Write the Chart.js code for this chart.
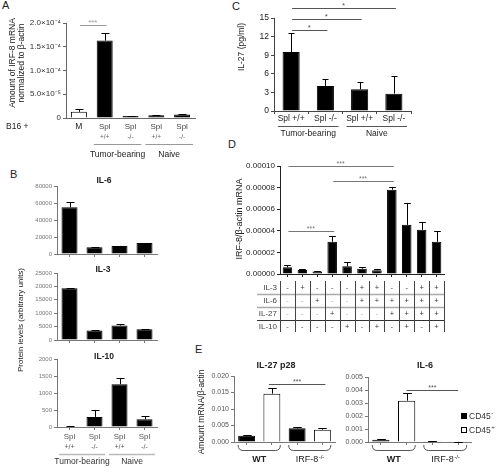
<!DOCTYPE html>
<html>
<head>
<meta charset="utf-8">
<script src="https://cdn.jsdelivr.net/npm/chart.js@4.4.1/dist/chart.umd.min.js"></script>
<style>
  html, body { margin: 0; padding: 0; background: #fff; }
  body { position: relative; width: 499px; height: 467px; overflow: hidden; font-family: "Liberation Sans", Arial, sans-serif; }
  canvas { position: absolute; }
  .letter { position: absolute; font-size: 11px; line-height: 11px; color: #222; }
</style>
</head>
<body>
<div class="letter" style="left:2px;top:0px">A</div>
<div class="letter" style="left:10px;top:169px">B</div>
<div class="letter" style="left:232px;top:1px">C</div>
<div class="letter" style="left:228px;top:139px">D</div>
<div class="letter" style="left:195px;top:344px">E</div>
<script>
// ---- Panel A: IRF-8 mRNA ----
const catsA = ["M", "Spl +/+", "Spl -/-", "Spl +/+", "Spl -/-"];
const valsA = [1.3e-5, 1.63e-4, 0.4e-5, 0.6e-5, 0.75e-5];
const errA = [1.9e-5, 1.8e-4, 0.5e-5, 0.7e-5, 0.85e-5];
const fillA = ["#fff", "#000", "#000", "#000", "#000"];
const ticksA = ["0", "5.0×10⁻⁵", "1.0×10⁻⁴", "1.5×10⁻⁴", "2.0×10⁻⁴"];
const groupsA = [["Tumor-bearing", 1, 2], ["Naive", 3, 4]];
const sigA = [[0, 1, 1.96e-4, "***"]];

// ---- Panel B: protein levels ----
const catsB = ["Spl +/+", "Spl -/-", "Spl +/+", "Spl -/-"];
const il6B = [54900, 7800, 9500, 13000];
const il6ErrB = [60800, 8100, 9900, 13500];
const il3B = [19300, 3500, 5400, 4000];
const il3ErrB = [19500, 3700, 5800, 4200];
const il10B = [15, 297, 1257, 228];
const il10ErrB = [30, 495, 1455, 317];
const ticksIL6 = ["0", "20000", "40000", "60000", "80000"];
const ticksIL3 = ["0", "5000", "10000", "15000", "20000", "25000"];
const ticksIL10 = ["0", "500", "1000", "1500", "2000"];
const groupsB = [["Tumor-bearing", 0, 1], ["Naive", 2, 3]];

// ---- Panel C: IL-27 ----
const catsC = ["Spl +/+", "Spl -/-", "Spl +/+", "Spl -/-"];
const valsC = [9.5, 4.05, 3.5, 2.8];
const errC = [12.55, 5.15, 4.65, 5.6];
const ticksC = ["0", "3", "6", "9", "12", "15"];
const groupsC = [["Tumor-bearing", 0, 1], ["Naive", 2, 3]];
const sigC = [[0, 1, 13.06, "*"], [0, 2, 14.84, "*"], [0, 3, 16.6, "*"]];

// ---- Panel D: cytokine combinations ----
const cytokinesD = ["IL-3", "IL-6", "IL-27", "IL-10"];
const signsD = [
  ["-", "+", "-", "-", "-", "+", "+", "-", "-", "+", "+"],
  ["-", "-", "+", "-", "-", "+", "+", "+", "+", "+", "+"],
  ["-", "-", "-", "+", "-", "-", "-", "+", "+", "+", "+"],
  ["-", "-", "-", "-", "+", "-", "+", "-", "+", "-", "+"],
];
const valsD = [6.2e-6, 3.7e-6, 2.2e-6, 2.98e-5, 7.1e-6, 4.9e-6, 3.4e-6, 7.8e-5, 4.55e-5, 4.09e-5, 2.98e-5];
const errD = [8.3e-6, 4.6e-6, 2.5e-6, 3.48e-5, 1.08e-5, 6.5e-6, 4.3e-6, 8.1e-5, 6.55e-5, 4.77e-5, 3.97e-5];
const ticksD = ["0.00000", "0.00002", "0.00004", "0.00006", "0.00008", "0.00010"];
const sigD = [[0, 7, 1.0e-4, "***"], [3, 7, 8.6e-5, "***"], [0, 3, 4.0e-5, "***"]];

// ---- Panel E: WT vs IRF-8-/- ----
const catsE = ["WT CD45-", "WT CD45+", "IRF-8-/- CD45-", "IRF-8-/- CD45+"];
const fillE = ["#000", "#fff", "#000", "#fff"];
const p28E = [0.0019, 0.01465, 0.00414, 0.00374];
const p28ErrE = [0.0021, 0.01646, 0.00444, 0.00424];
const il6E = [0.00018, 0.00318, 0.00005, 0.00001];
const il6ErrE = [0.0002, 0.00375, 0.00006, 0.00002];
const ticksP28 = ["0.000", "0.005", "0.010", "0.015", "0.020"];
const ticksIL6E = ["0.000", "0.001", "0.002", "0.003", "0.004", "0.005"];
const groupsE = [["WT", "", 0, 1], ["IRF-8", "-/-", 2, 3]];
const legendE = [["CD45", "-", "#000"], ["CD45", "+", "#fff"]];

const FONT = '"Liberation Sans", Arial, Helvetica, sans-serif';
Chart.defaults.font.family = FONT;

function txt(ctx, s, x, y, o = {}) {
  ctx.save();
  ctx.font = `${o.bold ? "bold " : ""}${o.size || 8}px ${FONT}`;
  ctx.fillStyle = o.color || "#222";
  ctx.textAlign = o.align || "center";
  ctx.textBaseline = "middle";
  ctx.translate(x, y);
  if (o.rot) ctx.rotate(-Math.PI / 2);
  ctx.fillText(s, 0, 0);
  ctx.restore();
}

function supTxt(ctx, base, sup, x, y, o = {}) {
  const size = o.size || 8;
  const w = o.bold ? "bold " : "";
  const f1 = `${w}${size}px ${FONT}`;
  const f2 = `${w}${Math.round(size * 0.65)}px ${FONT}`;
  ctx.save();
  ctx.font = f1;
  const w1 = ctx.measureText(base).width;
  ctx.font = f2;
  const w2 = ctx.measureText(sup).width;
  const x0 = o.align === "left" ? x : x - (w1 + w2) / 2;
  ctx.fillStyle = o.color || "#222";
  ctx.textBaseline = "middle";
  ctx.textAlign = "left";
  ctx.font = f1;
  ctx.fillText(base, x0, y);
  ctx.font = f2;
  ctx.fillText(sup, x0 + w1 + 0.5, y - size * 0.35);
  ctx.restore();
}

function seg(ctx, x0, y0, x1, y1, color, width) {
  ctx.save();
  ctx.strokeStyle = color || "#222";
  ctx.lineWidth = width || 1;
  ctx.beginPath();
  ctx.moveTo(x0, y0);
  ctx.lineTo(x1, y1);
  ctx.stroke();
  ctx.restore();
}

function drawSig(ctx, X, Y, sig, color, size) {
  sig.forEach(([a, b, v, stars]) => {
    const y = Math.round(Y(v)) + 0.5;
    seg(ctx, X(a) + 1, y, X(b) + 2, y, color, 1);
    txt(ctx, stars, (X(a) + X(b)) / 2 + 1, y - 2.5, { size, color });
  });
}

function drawGroups(ctx, X, slot, groups, lineY, textY, o) {
  groups.forEach(([name, a, b]) => {
    const x0 = X(a) - slot / 2 + o.inset;
    const x1 = X(b) + slot / 2 - o.inset;
    seg(ctx, x0, lineY, x1, lineY, o.lineColor, o.lineWidth || 1);
    txt(ctx, name, (x0 + x1) / 2, textY, { size: o.size, color: o.color });
  });
}

function barPanel(o) {
  const [bx0, by0, bx1, by1] = o.box;
  const [px0, py0, px1, py1] = o.plot;
  const cv = document.createElement("canvas");
  cv.width = bx1 - bx0;
  cv.height = by1 - by0;
  cv.style.left = bx0 + "px";
  cv.style.top = by0 + "px";
  document.body.appendChild(cv);
  const axis = o.axis || "#333";
  const step = o.max / (o.ticks.length - 1);
  return new Chart(cv, {
    type: "bar",
    data: {
      labels: o.labels,
      datasets: [{
        data: o.values,
        backgroundColor: o.fill || "#000",
        borderColor: "#000",
        borderWidth: 1,
        borderSkipped: "bottom",
        barPercentage: o.barPct,
        categoryPercentage: 1,
      }],
    },
    options: {
      responsive: false,
      animation: false,
      devicePixelRatio: 1,
      events: [],
      layout: { padding: { left: 0, top: py0 - by0, right: bx1 - px1, bottom: 0 } },
      plugins: { legend: { display: false }, tooltip: { enabled: false } },
      scales: {
        x: {
          offset: true,
          grid: {
            drawOnChartArea: false,
            offset: !!o.tickBetween,
            drawTicks: o.xTicks !== false,
            tickLength: 3,
            color: axis,
          },
          border: { color: axis },
          ticks: { display: false },
          afterFit: (s) => { s.height = by1 - py1; },
        },
        y: {
          min: 0,
          max: o.max,
          ticks: {
            stepSize: step,
            color: o.tickColor || "#222",
            font: { size: o.tickSize || 8 },
            padding: 2,
            callback: (v) => o.ticks[Math.round(v / step)],
          },
          grid: { drawOnChartArea: false, tickLength: 3, color: axis },
          border: { color: axis },
          afterFit: (s) => { s.width = px0 - bx0; },
        },
      },
    },
    plugins: [{
      id: "extras",
      afterDraw(chart) {
        const ctx = chart.ctx;
        const xs = chart.scales.x;
        const ys = chart.scales.y;
        const X = (i) => xs.getPixelForValue(i) + bx0;
        const Y = (v) => ys.getPixelForValue(v) + by0;
        const slot = xs.getPixelForValue(1) - xs.getPixelForValue(0);
        const meta = chart.getDatasetMeta(0);
        ctx.save();
        ctx.translate(-bx0, -by0);
        meta.data.forEach((bar, i) => {
          const e = o.errors[i];
          const x = Math.round(bar.x + bx0) + 0.5;
          const yTop = Math.round(Y(e)) + 0.5;
          const cap = bar.width * (o.cap || 0.5) / 2;
          seg(ctx, x, bar.y + by0, x, yTop, "#000", 1);
          seg(ctx, x - cap, yTop, x + cap, yTop, "#000", 1);
        });
        if (o.draw) o.draw(ctx, X, Y, slot, meta);
        ctx.restore();
      },
    }],
  });
}

// Panel A
barPanel({
  box: [0, 0, 232, 165], plot: [66, 23, 195, 118],
  labels: catsA, values: valsA, errors: errA, fill: fillA, ticks: ticksA,
  max: 2e-4, barPct: 0.62, axis: "#666", tickColor: "#333", tickSize: 8, xTicks: false,
  draw(ctx, X, Y, slot) {
    txt(ctx, "Amount of IRF-8 mRNA", 13, 63, { size: 8.5, rot: true });
    txt(ctx, "normalized to β-actin", 22, 63, { size: 8.5, rot: true });
    txt(ctx, "B16 +", 6, 127, { size: 8.5, align: "left" });
    catsA.forEach((c, i) => {
      const [top, bot] = c.split(" ");
      if (bot) {
        txt(ctx, top, X(i), 127, { size: 8, color: "#444" });
        txt(ctx, bot, X(i), 137, { size: 6.5, color: "#666" });
      } else {
        txt(ctx, top, X(i), 127, { size: 8.5 });
      }
    });
    drawGroups(ctx, X, slot, groupsA, 144.5, 155, { inset: 2, lineColor: "#999", size: 8.5, color: "#222" });
    drawSig(ctx, X, Y, sigA, "#999", 8);
  },
});

// Panel C
barPanel({
  box: [232, 0, 499, 145], plot: [274, 18, 411, 111],
  labels: catsC, values: valsC, errors: errC, ticks: ticksC,
  max: 15, barPct: 0.5, axis: "#444", tickColor: "#222", tickSize: 8.5, tickBetween: true, cap: 0.35,
  draw(ctx, X, Y, slot) {
    txt(ctx, "IL-27 (pg/ml)", 242, 47, { size: 8.5, rot: true });
    catsC.forEach((c, i) => txt(ctx, c, X(i), 119, { size: 8.5 }));
    drawGroups(ctx, X, slot, groupsC, 126.5, 134, { inset: 4, lineColor: "#555", size: 8.5, color: "#222" });
    drawSig(ctx, X, Y, sigC, "#555", 8);
  },
});

// Panel B
barPanel({
  box: [0, 168, 175, 262], plot: [57, 186, 157, 254],
  labels: catsB, values: il6B, errors: il6ErrB, ticks: ticksIL6,
  max: 80000, barPct: 0.64, axis: "#777", tickColor: "#777", tickSize: 6,
  draw(ctx) {
    txt(ctx, "IL-6", 104, 181, { size: 8.5, bold: true });
  },
});
barPanel({
  box: [0, 240, 175, 372], plot: [57, 273, 157, 340],
  labels: catsB, values: il3B, errors: il3ErrB, ticks: ticksIL3,
  max: 25000, barPct: 0.64, axis: "#777", tickColor: "#777", tickSize: 6,
  draw(ctx) {
    txt(ctx, "IL-3", 103, 270, { size: 8.5, bold: true });
    txt(ctx, "Protein levels (arbitrary units)", 21, 320, { size: 8, rot: true });
  },
});
barPanel({
  box: [0, 345, 175, 467], plot: [57, 359, 157, 427],
  labels: catsB, values: il10B, errors: il10ErrB, ticks: ticksIL10,
  max: 2000, barPct: 0.64, axis: "#777", tickColor: "#777", tickSize: 6,
  draw(ctx, X, Y, slot) {
    txt(ctx, "IL-10", 104, 357, { size: 8.5, bold: true });
    catsB.forEach((c, i) => {
      const [top, bot] = c.split(" ");
      txt(ctx, top, X(i), 437, { size: 8, color: "#555" });
      txt(ctx, bot, X(i), 447, { size: 7, color: "#555" });
    });
    drawGroups(ctx, X, slot, groupsB, 454.5, 462, { inset: 2, lineColor: "#bbb", lineWidth: 1.5, size: 8.5, color: "#333" });
  },
});

// Panel D
const labelsD = signsD[0].map((_, i) =>
  cytokinesD.filter((_, r) => signsD[r][i] === "+").join("+") || "none");
barPanel({
  box: [232, 140, 499, 340], plot: [280, 166, 444, 274],
  labels: labelsD, values: valsD, errors: errD, ticks: ticksD,
  max: 1e-4, barPct: 0.64, axis: "#222", tickColor: "#222", tickSize: 8, cap: 0.7,
  draw(ctx, X, Y, slot) {
    txt(ctx, "IRF-8/β-actin mRNA", 240, 219, { size: 9, rot: true });
    drawSig(ctx, X, Y, sigD, "#777", 7);
    const rowY = [288, 301, 314, 326.5];
    const minusColor = ["#444", "#aaa", "#aaa", "#444"];
    cytokinesD.forEach((name, r) => {
      txt(ctx, name, 277, rowY[r], { size: 8, color: "#444", align: "right" });
      signsD[r].forEach((s, i) => {
        txt(ctx, s, X(i), rowY[r], { size: 7.5, color: s === "+" ? "#333" : minusColor[r] });
      });
    });
    const x0 = X(0) - slot / 2;
    const x1 = X(signsD[0].length - 1) + slot / 2;
    seg(ctx, 257, 294.5, x1, 294.5, "#aaa", 1.5);
    seg(ctx, 257, 307.5, x1, 307.5, "#aaa", 1.5);
    seg(ctx, 257, 320.5, x1, 320.5, "#333", 1);
    for (let k = 0; k <= signsD[0].length; k++) {
      const x = Math.round(x0 + k * slot) + 0.5;
      seg(ctx, x, 281, x, 332, "#444", 1);
    }
  },
});

// Panel E
function drawBraces(ctx, X, meta) {
  const bw = meta.data[0].width;
  groupsE.forEach(([name, sup, a, b]) => {
    const x0 = X(a) - bw / 2;
    const x1 = X(b) + bw / 2;
    ctx.save();
    ctx.strokeStyle = "#555";
    ctx.lineWidth = 1;
    ctx.beginPath();
    ctx.moveTo(x0, 445);
    ctx.quadraticCurveTo(x0, 450.5, x0 + 5, 450.5);
    ctx.lineTo(x1 - 5, 450.5);
    ctx.quadraticCurveTo(x1, 450.5, x1, 445);
    ctx.stroke();
    ctx.restore();
    if (sup) supTxt(ctx, name, sup, (x0 + x1) / 2, 460, { size: 9 });
    else txt(ctx, name, (x0 + x1) / 2, 460, { size: 9, bold: true });
  });
}

barPanel({
  box: [192, 355, 345, 467], plot: [234, 376, 335, 442],
  labels: catsE, values: p28E, errors: p28ErrE, fill: fillE, ticks: ticksP28,
  max: 0.02, barPct: 0.67, axis: "#777", tickColor: "#555", tickSize: 7,
  draw(ctx, X, Y, slot, meta) {
    txt(ctx, "Amount mRNA/β-actin", 202, 412, { size: 8.5, rot: true });
    txt(ctx, "IL-27 p28", 276, 366, { size: 9, bold: true });
    const y = Math.round(Y(0.0176)) + 0.5;
    seg(ctx, X(1) - 3, y, X(3) + 3, y, "#555", 1);
    txt(ctx, "***", (X(1) + X(3)) / 2, y - 2.5, { size: 7, color: "#555" });
    drawBraces(ctx, X, meta);
  },
});

barPanel({
  box: [338, 355, 499, 467], plot: [368, 377, 471, 442],
  labels: catsE, values: il6E, errors: il6ErrE, fill: fillE, ticks: ticksIL6E,
  max: 0.005, barPct: 0.67, axis: "#777", tickColor: "#555", tickSize: 7,
  draw(ctx, X, Y, slot, meta) {
    txt(ctx, "IL-6", 425, 366, { size: 9, bold: true });
    const y = Math.round(Y(0.004)) + 0.5;
    seg(ctx, X(1), y, X(3), y, "#555", 1);
    txt(ctx, "***", (X(1) + X(3)) / 2, y - 2.5, { size: 7, color: "#555" });
    drawBraces(ctx, X, meta);
    legendE.forEach(([base, sup, color], k) => {
      const y0 = 413 + k * 14;
      ctx.fillStyle = color;
      ctx.fillRect(461, y0, 6, 6);
      ctx.strokeStyle = "#000";
      ctx.lineWidth = 1;
      ctx.strokeRect(461.5, y0 + 0.5, 5, 5);
      supTxt(ctx, base, sup, 469, y0 + 3.5, { size: 8.5, align: "left", color: "#333" });
    });
  },
});
</script>
</body>
</html>
